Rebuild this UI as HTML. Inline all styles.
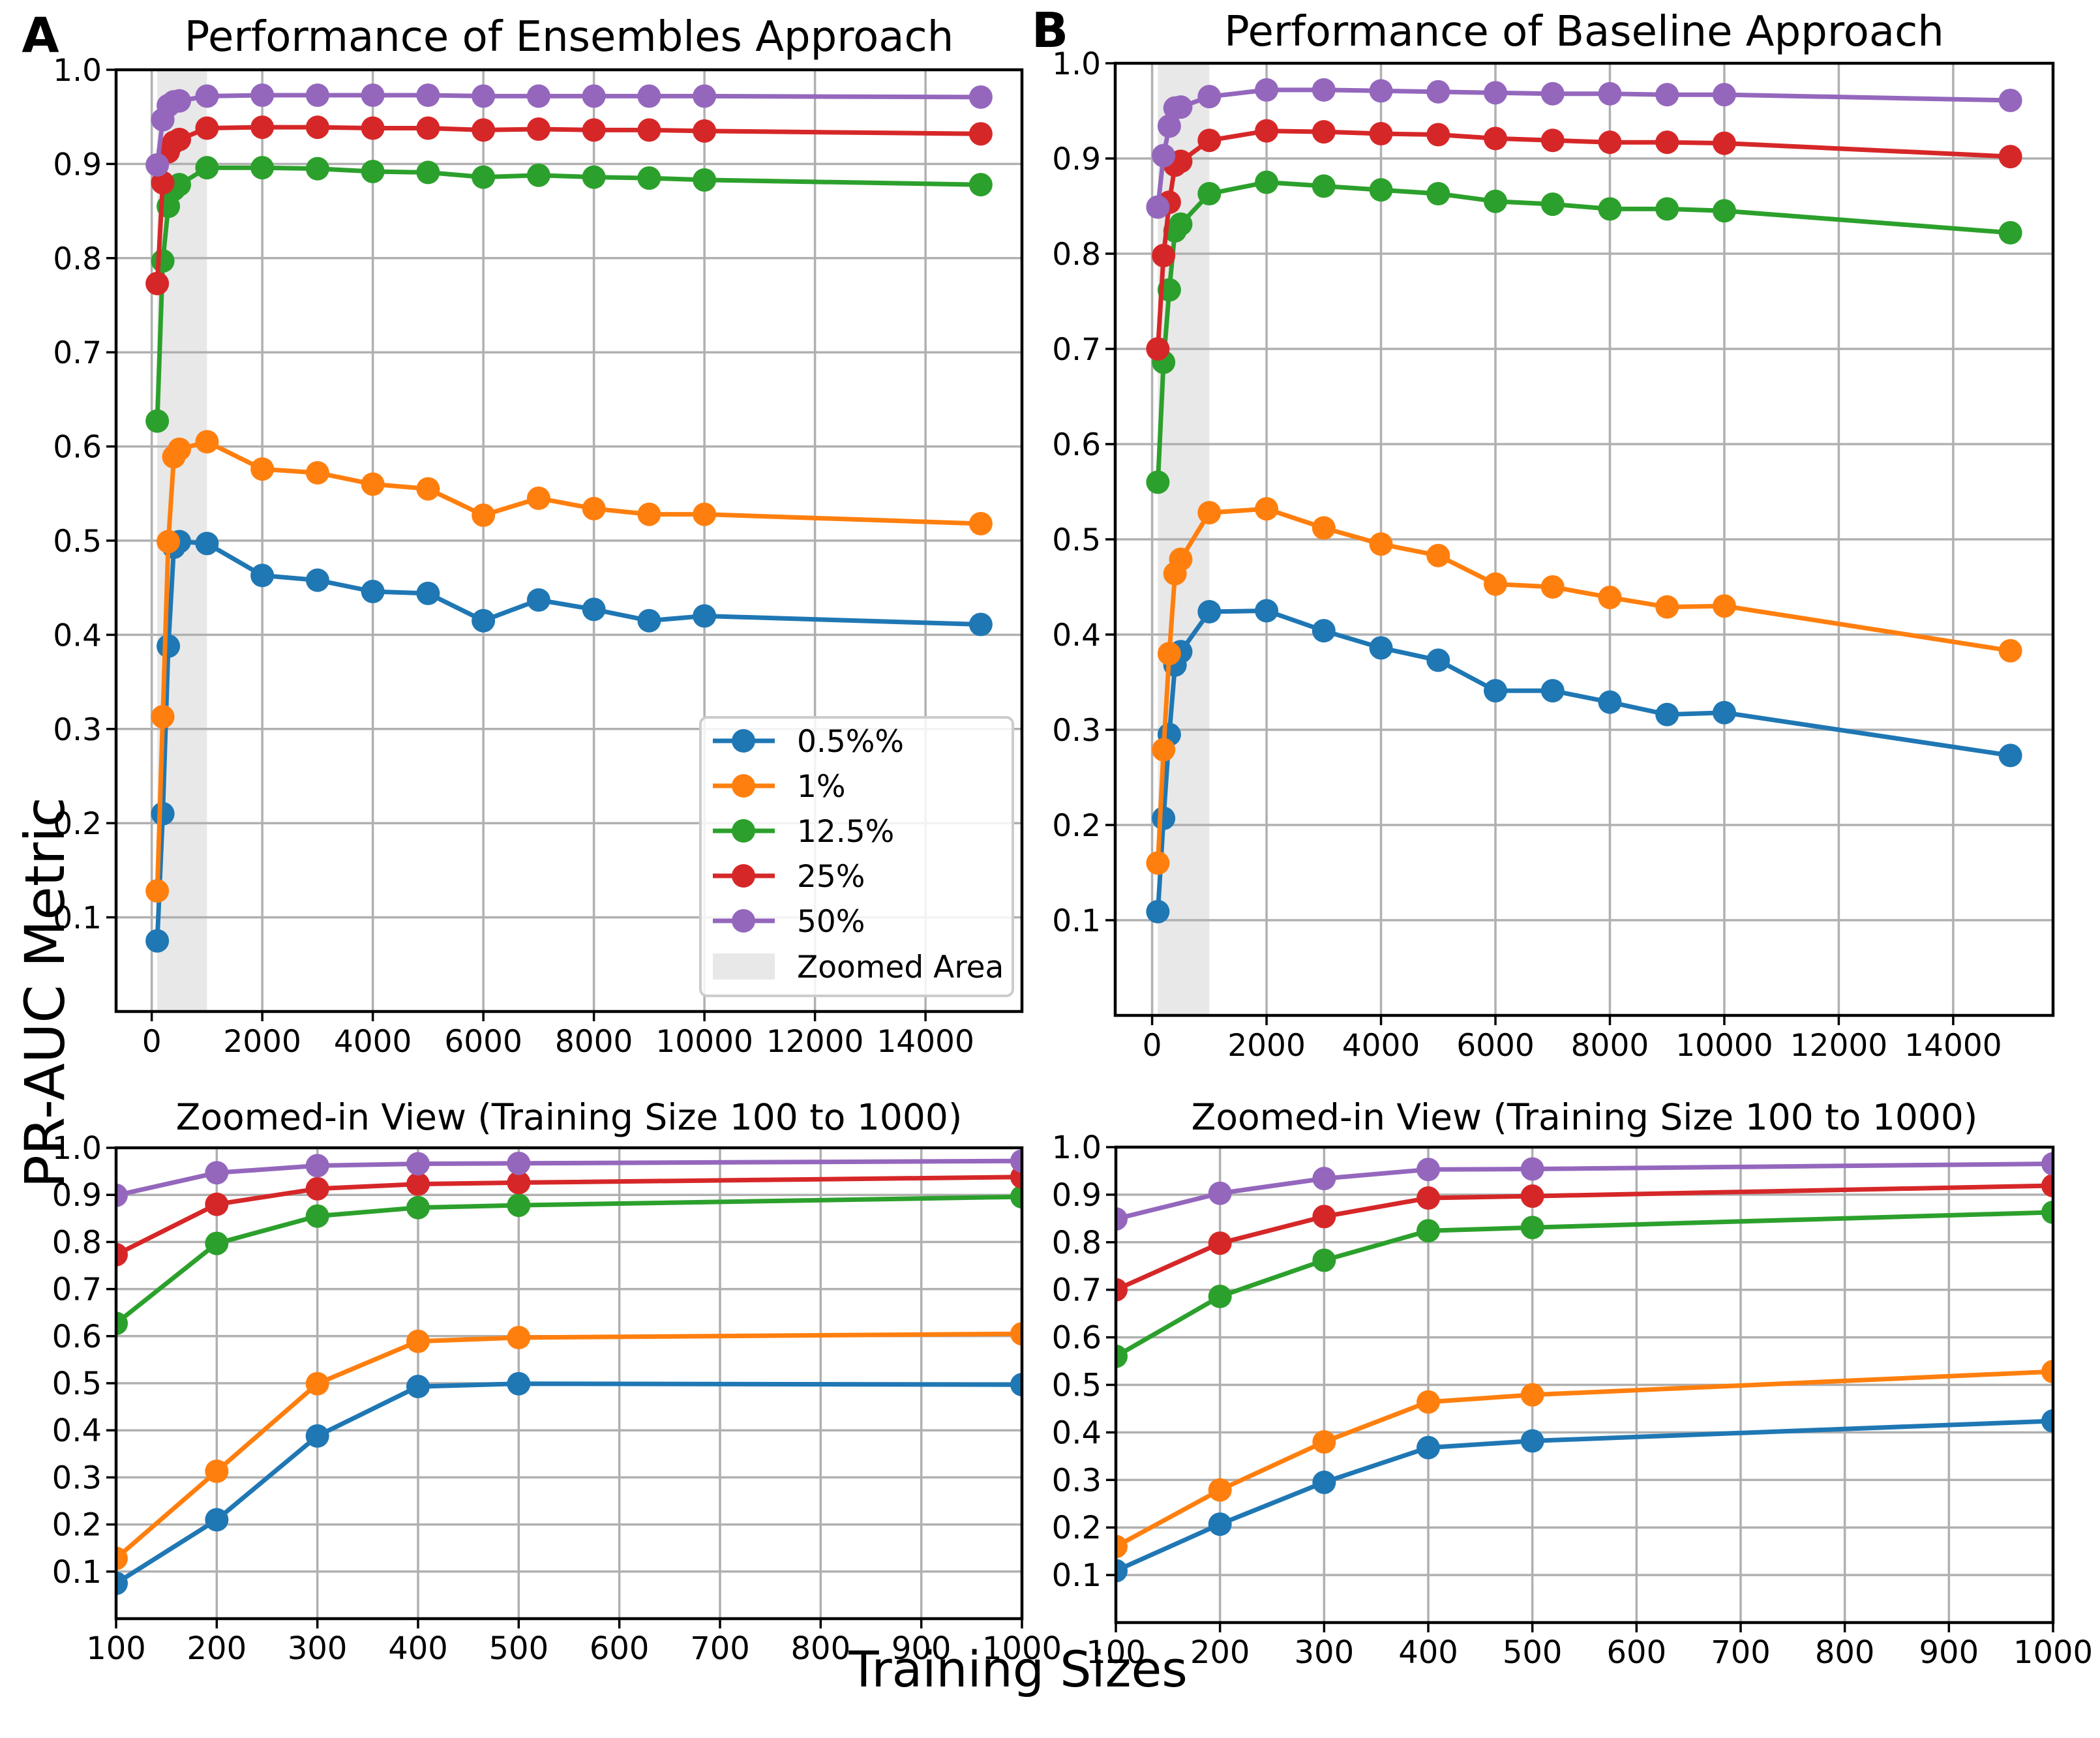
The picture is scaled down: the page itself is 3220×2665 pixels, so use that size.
<!DOCTYPE html>
<html><head><meta charset="utf-8"><style>
html,body{margin:0;padding:0;background:#fff;}
svg{display:block;font-family:"DejaVu Sans","Liberation Sans",sans-serif;}
</style></head><body>
<svg id="fig" xmlns="http://www.w3.org/2000/svg" width="3220" height="2665" viewBox="0 0 3220 2665">
<rect width="3220" height="2665" fill="#fff"/>
<text x="62" y="80" font-size="74" font-weight="bold" text-anchor="middle">A</text>
<text x="1610" y="72" font-size="74" font-weight="bold" text-anchor="middle">B</text>
<text x="1561" y="2586" font-size="76" text-anchor="middle">Training Sizes</text>
<text transform="translate(98,1522) rotate(-90)" font-size="84" text-anchor="middle">PR-AUC Metric</text>
</svg>
<script>
const sizes=[100,200,300,400,500,1000,2000,3000,4000,5000,6000,7000,8000,9000,10000,15000];
const seriesNames=["0.5%%","1%","12.5%","25%","50%"];
const colors=["#1f77b4","#ff7f0e","#2ca02c","#d62728","#9467bd"];
const ensBlue=[0.075,0.21,0.388,0.493,0.499,0.497,0.463,0.458,0.446,0.444,0.415,0.437,0.427,0.415,0.420,0.411];
const ensOrange=[0.128,0.313,0.499,0.589,0.597,0.605,0.576,0.572,0.560,0.555,0.527,0.545,0.534,0.528,0.528,0.518];
const ensGreen=[0.627,0.797,0.855,0.873,0.878,0.896,0.896,0.895,0.892,0.891,0.886,0.888,0.886,0.885,0.883,0.878];
const ensRed=[0.773,0.880,0.913,0.923,0.926,0.938,0.939,0.939,0.938,0.938,0.936,0.937,0.936,0.936,0.935,0.932];
const ensPurple=[0.899,0.947,0.962,0.966,0.967,0.972,0.973,0.973,0.973,0.973,0.972,0.972,0.972,0.972,0.972,0.971];
const baseBlue=[0.109,0.207,0.295,0.368,0.382,0.424,0.425,0.404,0.386,0.373,0.341,0.341,0.329,0.316,0.318,0.273];
const baseOrange=[0.160,0.279,0.380,0.464,0.479,0.528,0.532,0.512,0.495,0.483,0.453,0.450,0.439,0.429,0.430,0.383];
const baseGreen=[0.560,0.686,0.762,0.824,0.831,0.863,0.875,0.871,0.867,0.863,0.855,0.852,0.847,0.847,0.845,0.822];
const baseRed=[0.700,0.798,0.854,0.893,0.897,0.919,0.929,0.928,0.926,0.925,0.921,0.919,0.917,0.917,0.916,0.902];
const basePurple=[0.849,0.903,0.934,0.953,0.954,0.965,0.972,0.972,0.971,0.970,0.969,0.968,0.968,0.967,0.967,0.961];
const yTicks=[0.1,0.2,0.3,0.4,0.5,0.6,0.7,0.8,0.9,1.0];
const yTickLabels=["0.1","0.2","0.3","0.4","0.5","0.6","0.7","0.8","0.9","1.0"];
const xTicksFull=[0,2000,4000,6000,8000,10000,12000,14000];
const xTicksZoom=[100,200,300,400,500,600,700,800,900,1000];
const zoomRange=[100,1000];

const NS="http://www.w3.org/2000/svg";
const svg=document.getElementById('fig');
function mk(tag,attrs,parent){const e=document.createElementNS(NS,tag);for(const k in attrs)e.setAttribute(k,attrs[k]);(parent||svg).appendChild(e);return e;}

function panel(cfg){
  const g=mk('g',{});
  
  
  const sx=v=>cfg.L+(v-cfg.x0)/(cfg.x1-cfg.x0)*(cfg.R-cfg.L);
  const sy=v=>cfg.B-(v-cfg.y0)/(cfg.y1-cfg.y0)*(cfg.B-cfg.T);
  const clipId='clip-'+cfg.name;
  const cp=mk('clipPath',{id:clipId},g);
  mk('rect',{x:cfg.L,y:cfg.T,width:cfg.R-cfg.L,height:cfg.B-cfg.T},cp);
  if(cfg.shade){
    const r=mk('rect',{x:sx(zoomRange[0]),y:cfg.T,width:sx(zoomRange[1])-sx(zoomRange[0]),height:cfg.B-cfg.T,fill:'#e8e8e8'},g);
    
    
  }
  cfg.xt.forEach(t=>{const l=mk('line',{x1:sx(t),x2:sx(t),y1:cfg.T,y2:cfg.B,stroke:'#b0b0b0','stroke-width':3.5},g);
    });
  yTicks.forEach(t=>{const l=mk('line',{x1:cfg.L,x2:cfg.R,y1:sy(t),y2:sy(t),stroke:'#b0b0b0','stroke-width':3.5},g);
    });
  const sg=mk('g',{'clip-path':cfg.clip?'url(#'+clipId+')':''},g);
  cfg.data.forEach((vals,i)=>{
    const xs=cfg.clip?sizes.slice(0,6):sizes;
    const pts=xs.map((x,j)=>sx(x).toFixed(1)+','+sy(vals[j]).toFixed(1)).join(' ');
    const pl=mk('polyline',{points:pts,fill:'none',stroke:colors[i],'stroke-width':7,'stroke-linejoin':'round'},sg);
    
    
    xs.forEach((x,j)=>{const c=mk('circle',{cx:sx(x),cy:sy(vals[j]),r:18,fill:colors[i]},sg);
      
      });
  });
  const sp=mk('rect',{x:cfg.L,y:cfg.T,width:cfg.R-cfg.L,height:cfg.B-cfg.T,fill:'none',stroke:'#000','stroke-width':4.5},g);
  
  cfg.xt.forEach(t=>{mk('line',{x1:sx(t),x2:sx(t),y1:cfg.B,y2:cfg.B+15,stroke:'#000','stroke-width':3.5},g);
    const tx=mk('text',{x:sx(t),y:cfg.B+62,'font-size':cfg.fs,'text-anchor':'middle'},g);tx.textContent=String(t);
    });
  yTicks.forEach((t,i)=>{mk('line',{x1:cfg.L-15,x2:cfg.L,y1:sy(t),y2:sy(t),stroke:'#000','stroke-width':3.5},g);
    const tx=mk('text',{x:cfg.L-22,y:sy(t)+17,'font-size':cfg.fs,'text-anchor':'end'},g);tx.textContent=yTickLabels[i];
    });
  const ti=mk('text',{x:(cfg.L+cfg.R)/2,y:cfg.titleY,'font-size':cfg.tfs,'text-anchor':'middle'},g);
  ti.textContent=cfg.title;
  
  return {sx,sy};
}
const ens=[ensBlue,ensOrange,ensGreen,ensRed,ensPurple];
const base=[baseBlue,baseOrange,baseGreen,baseRed,basePurple];
panel({name:'ensembles-panel',L:178,R:1567,T:107,B:1551,x0:-645,x1:15745,y0:0,y1:1,xt:xTicksFull,data:ens,shade:true,clip:false,fs:47,tfs:64,titleY:78,title:'Performance of Ensembles Approach'});
panel({name:'baseline-panel',L:1710,R:3148,T:97,B:1557,x0:-645,x1:15745,y0:0,y1:1,xt:xTicksFull,data:base,shade:true,clip:false,fs:47,tfs:64,titleY:70,title:'Performance of Baseline Approach'});
panel({name:'ensembles-zoom-panel',L:178,R:1567,T:1760,B:2482,x0:100,x1:1000,y0:0,y1:1,xt:xTicksZoom,data:ens,shade:false,clip:true,fs:48,tfs:55,titleY:1732,title:'Zoomed-in View (Training Size 100 to 1000)'});
panel({name:'baseline-zoom-panel',L:1711,R:3148,T:1759,B:2488,x0:100,x1:1000,y0:0,y1:1,xt:xTicksZoom,data:base,shade:false,clip:true,fs:48,tfs:55,titleY:1732,title:'Zoomed-in View (Training Size 100 to 1000)'});

const lg=mk('g',{});


mk('rect',{x:1074,y:1100,width:479,height:427,rx:10,fill:'#fff','fill-opacity':0.85,stroke:'#cccccc','stroke-width':4},lg);
const rowY=[1136,1205,1274,1343,1412,1482];
seriesNames.forEach((n,i)=>{
  const e=mk('g',{},lg);
  
  
  mk('line',{x1:1093,x2:1188,y1:rowY[i],y2:rowY[i],stroke:colors[i],'stroke-width':7},e);
  mk('circle',{cx:1140,cy:rowY[i],r:18,fill:colors[i]},e);
  const t=mk('text',{x:1222,y:rowY[i]+17,'font-size':47},e);t.textContent=n;
});
const ze=mk('g',{},lg);


mk('rect',{x:1093,y:rowY[5]-20,width:95,height:40,fill:'#e8e8e8'},ze);
const zt=mk('text',{x:1222,y:rowY[5]+17,'font-size':47},ze);zt.textContent='Zoomed Area';
</script>
</body></html>
